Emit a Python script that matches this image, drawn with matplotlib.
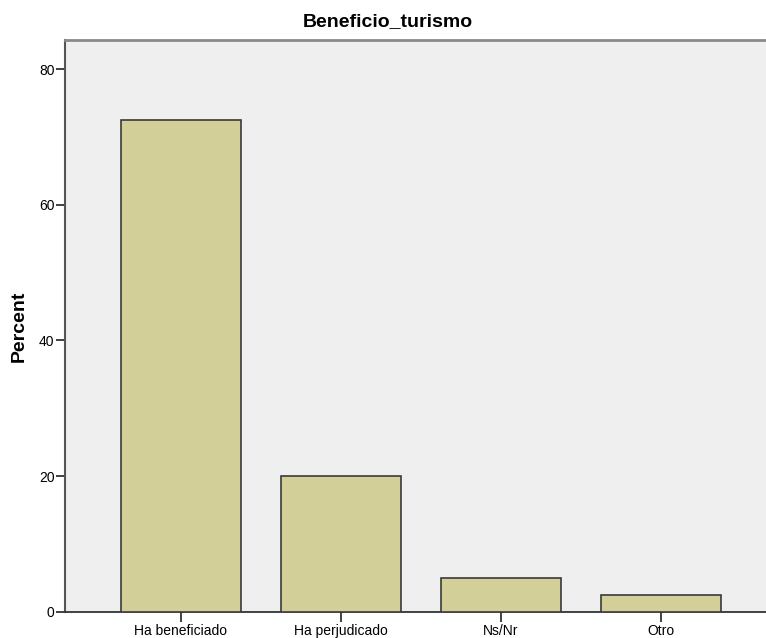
import matplotlib
matplotlib.use('Agg')
import matplotlib.pyplot as plt

categories = ['Ha beneficiado', 'Ha perjudicado', 'Ns/Nr', 'Otro']
percent = [72.5, 20.0, 5.0, 2.5]
yticks = [0, 20, 40, 60, 80]

plt.rcParams['font.family'] = ['Liberation Sans', 'DejaVu Sans']

fig = plt.figure(figsize=(7.66, 6.38), dpi=100)
ax = fig.add_axes([65/766, (638-611.7)/638, 712/766, (611.7-40)/638])
ax.set_facecolor('#efefef')

x = range(len(categories))
ax.bar(x, percent, width=0.75, color='#d3cf99', edgecolor='#3a3a3a', linewidth=1.2, zorder=3)

ax.set_xlim(-0.725, 3.725)
ax.set_ylim(0, 84.3)
ax.set_xticks(list(x))
ax.set_xticklabels(categories, fontsize=10)
ax.set_yticks(yticks)
ax.set_yticklabels([str(v) for v in yticks], fontsize=10)
ax.tick_params(axis='y', direction='out', length=6.5, width=1.3, color='#333333', pad=1)
ax.tick_params(axis='x', direction='out', length=7, width=1.3, color='#333333', pad=2)

ax.spines['right'].set_visible(False)
ax.spines['left'].set_color('#555555')
ax.spines['left'].set_linewidth(1.5)
ax.spines['bottom'].set_color('#333333')
ax.spines['bottom'].set_linewidth(1.3)
ax.spines['top'].set_color('#8a8a8a')
ax.spines['top'].set_linewidth(2)

ax.set_ylabel('Percent', fontsize=14, fontweight='bold', labelpad=8)
fig.text(388/766, 1 - 22/638, 'Beneficio_turismo', fontsize=14, fontweight='bold',
         ha='center', va='center')

fig.savefig('out.png', dpi=100)
